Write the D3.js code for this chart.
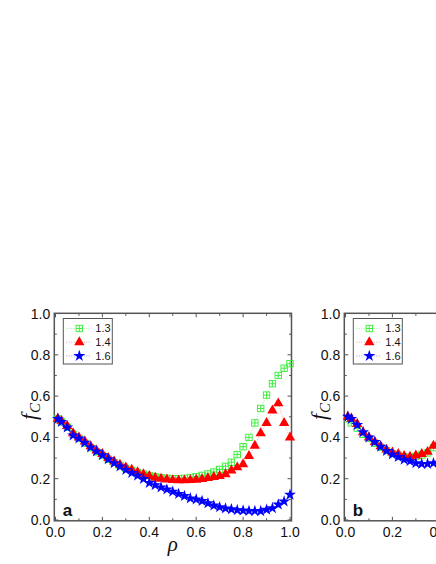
<!DOCTYPE html>
<html lang="en">
<head>
<meta charset="utf-8">
<script src="https://d3js.org/d3.v7.min.js"></script>
<style>
  body { margin: 0; background: #fff; }
  svg { display: block; font-family: 'Liberation Sans', Arial, sans-serif; }
</style>
</head>
<body>
<script>
// rho values (x) for panel a
const rhoA = [0.01, 0.025, 0.05, 0.075, 0.1, 0.125, 0.15, 0.175, 0.2, 0.225,
              0.25, 0.275, 0.3, 0.325, 0.35, 0.375, 0.4, 0.425, 0.45, 0.475,
              0.5, 0.525, 0.55, 0.575, 0.6, 0.625, 0.65, 0.675, 0.7, 0.725,
              0.75, 0.775, 0.8, 0.825, 0.85, 0.875, 0.9, 0.925, 0.95, 0.975, 1.0];
const a13 = [0.49, 0.475, 0.45, 0.415, 0.395, 0.372, 0.35, 0.33, 0.312, 0.294,
             0.278, 0.264, 0.25, 0.24, 0.23, 0.222, 0.215, 0.209, 0.205, 0.202,
             0.2, 0.2, 0.202, 0.206, 0.21, 0.216, 0.223, 0.232, 0.245, 0.26,
             0.28, 0.317, 0.355, 0.4, 0.47, 0.54, 0.605, 0.66, 0.7, 0.735, 0.757];
const a14 = [0.49, 0.48, 0.455, 0.42, 0.4, 0.38, 0.357, 0.337, 0.32, 0.3,
             0.283, 0.268, 0.255, 0.243, 0.232, 0.222, 0.213, 0.205, 0.2, 0.196,
             0.193, 0.192, 0.192, 0.193, 0.195, 0.198, 0.203, 0.208, 0.213, 0.222,
             0.24, 0.255, 0.27, 0.31, 0.36, 0.42, 0.47, 0.53, 0.565, 0.47, 0.4];
const a16 = [0.49, 0.475, 0.448, 0.41, 0.395, 0.375, 0.352, 0.332, 0.314, 0.294,
             0.275, 0.259, 0.243, 0.228, 0.215, 0.199, 0.18, 0.169, 0.158, 0.148,
             0.137, 0.126, 0.116, 0.105, 0.1, 0.092, 0.081, 0.07, 0.062, 0.056,
             0.052, 0.048, 0.046, 0.044, 0.044, 0.043, 0.05, 0.057, 0.075, 0.09, 0.122];

// panel b (only the left part is visible)
const rhoB = [0.01, 0.025, 0.05, 0.075, 0.1, 0.125, 0.15, 0.175, 0.2, 0.225,
              0.25, 0.275, 0.3, 0.325, 0.35, 0.375, 0.4];
const b13 = [0.49, 0.47, 0.445, 0.415, 0.395, 0.372, 0.352, 0.336, 0.322, 0.314,
             0.306, 0.302, 0.308, 0.315, 0.325, 0.35, 0.37];
const b14 = [0.5, 0.49, 0.465, 0.425, 0.4, 0.378, 0.357, 0.341, 0.327, 0.32,
             0.31, 0.306, 0.312, 0.32, 0.33, 0.36, 0.38];
const b16 = [0.5, 0.49, 0.46, 0.425, 0.4, 0.378, 0.355, 0.335, 0.318, 0.305,
             0.292, 0.285, 0.275, 0.272, 0.272, 0.275, 0.278];

const seriesNames = ["1.3", "1.4", "1.6"];
const majorTicks = [0, 0.2, 0.4, 0.6, 0.8, 1.0];
const minorTicks = [0.1, 0.3, 0.5, 0.7, 0.9];

const colors = ["#33ee33", "#ff0000", "#0000ff"];
const lineColors = ["#88ee88", "#ff8888", "#8888ff"];
const shapes = ["sq", "tri", "star"];

const w = 436, h = 564;
const svg = d3.select("body").append("svg").attr("width", w).attr("height", h);
svg.append("rect").attr("width", w).attr("height", h).attr("fill", "#fff");

// draw a marker of given type into selection g
function marker(g, type, i) {
  if (type === "sq") {
    g.append("rect").attr("x", -3.2).attr("y", -3.2).attr("width", 6.4).attr("height", 6.4)
      .attr("fill", "none").attr("stroke", colors[i]).attr("stroke-width", 0.9);
    g.append("path").attr("d", "M-3.2,0H3.2M0,-3.2V3.2")
      .attr("stroke", colors[i]).attr("stroke-width", 0.9);
  } else if (type === "tri") {
    g.append("path").attr("d", d3.symbol(d3.symbolTriangle, 46)())
      .attr("fill", colors[i]);
  } else {
    g.append("path").attr("d", d3.symbol(d3.symbolStar, 44)())
      .attr("fill", colors[i]);
  }
}

function panel(left, label, rho, series) {
  const x = d3.scaleLinear().domain([0, 1]).range([left + 1.2, left + 235.7]);
  const y = d3.scaleLinear().domain([0, 1]).range([520, 313.5]);
  const g = svg.append("g");
  const x0 = left, x1 = left + 237.2, yT = 313.3, yB = 520.8;

  // ticks inside the frame on all four sides
  const tk = g.append("g").attr("stroke", "#555").attr("stroke-width", 1);
  majorTicks.forEach(v => {
    tk.append("line").attr("x1", x(v)).attr("x2", x(v)).attr("y1", yB).attr("y2", yB - 4);
    tk.append("line").attr("x1", x(v)).attr("x2", x(v)).attr("y1", yT).attr("y2", yT + 4);
    tk.append("line").attr("x1", x0).attr("x2", x0 + 4).attr("y1", y(v)).attr("y2", y(v));
    tk.append("line").attr("x1", x1).attr("x2", x1 - 4).attr("y1", y(v)).attr("y2", y(v));
  });
  minorTicks.forEach(v => {
    tk.append("line").attr("x1", x(v)).attr("x2", x(v)).attr("y1", yB).attr("y2", yB - 2.5);
    tk.append("line").attr("x1", x(v)).attr("x2", x(v)).attr("y1", yT).attr("y2", yT + 2.5);
    tk.append("line").attr("x1", x0).attr("x2", x0 + 2.5).attr("y1", y(v)).attr("y2", y(v));
    tk.append("line").attr("x1", x1).attr("x2", x1 - 2.5).attr("y1", y(v)).attr("y2", y(v));
  });

  g.append("rect").attr("x", x0).attr("y", yT).attr("width", x1 - x0).attr("height", yB - yT)
    .attr("fill", "none").attr("stroke", "#555").attr("stroke-width", 1.5);

  // tick labels
  g.selectAll(".yl").data(majorTicks).join("text")
    .attr("x", x0 - 4).attr("y", d => y(d) + 5)
    .attr("text-anchor", "end").attr("font-size", 14).attr("fill", "#111")
    .text(d => d.toFixed(1));
  g.selectAll(".xl").data(majorTicks).join("text")
    .attr("x", d => x(d)).attr("y", 537)
    .attr("text-anchor", "middle").attr("font-size", 14).attr("fill", "#111")
    .text(d => d.toFixed(1));

  // axis titles
  const ft = g.append("text").attr("transform", `translate(${left - 18},${420}) rotate(-90)`)
    .attr("font-family", "'Liberation Serif', 'DejaVu Serif', serif").attr("font-style", "italic")
    .attr("font-size", 22).attr("fill", "#111");
  ft.append("tspan").text("f");
  ft.append("tspan").attr("font-size", 15).attr("dy", 4).attr("dx", 1).text("C");

  g.append("text").attr("x", x(0.5)).attr("y", 551).attr("text-anchor", "middle")
    .attr("font-family", "'Liberation Serif', 'DejaVu Serif', serif").attr("font-style", "italic")
    .attr("font-size", 21).attr("fill", "#111").text("ρ");

  // data
  series.forEach((vals, i) => {
    const pts = rho.map((r, k) => [r, vals[k]]);
    g.append("path").datum(pts)
      .attr("d", d3.line().x(d => x(d[0])).y(d => y(d[1])))
      .attr("fill", "none").attr("stroke", lineColors[i])
      .attr("stroke-width", 0.8).attr("stroke-dasharray", "1,1.5");
    g.append("g").selectAll("g").data(pts).join("g")
      .attr("transform", d => `translate(${x(d[0])},${y(d[1])})`)
      .each(function() { marker(d3.select(this), shapes[i], i); });
  });

  // legend
  const lg = g.append("g");
  lg.append("rect").attr("x", left + 9).attr("y", 318.5).attr("width", 49).attr("height", 45.5)
    .attr("fill", "#fff").attr("stroke", "#555").attr("stroke-width", 1);
  seriesNames.forEach((s, i) => {
    const yy = 328.5 + i * 13.7;
    lg.append("line").attr("x1", left + 12).attr("x2", left + 36).attr("y1", yy).attr("y2", yy)
      .attr("stroke", lineColors[i]).attr("stroke-width", 0.8).attr("stroke-dasharray", "1,1.5");
    marker(lg.append("g").attr("transform", `translate(${left + 25},${yy})`), shapes[i], i);
    lg.append("text").attr("x", left + 41).attr("y", yy + 3.8)
      .attr("font-size", 11).attr("fill", "#111").text(s);
  });

  g.append("text").attr("x", left + 8.5).attr("y", 515.5)
    .attr("font-size", 17).attr("font-weight", "bold").attr("fill", "#111").text(label);
}

panel(54.3, "a", rhoA, [a13, a14, a16]);
panel(344.3, "b", rhoB, [b13, b14, b16]);
</script>
</body>
</html>
